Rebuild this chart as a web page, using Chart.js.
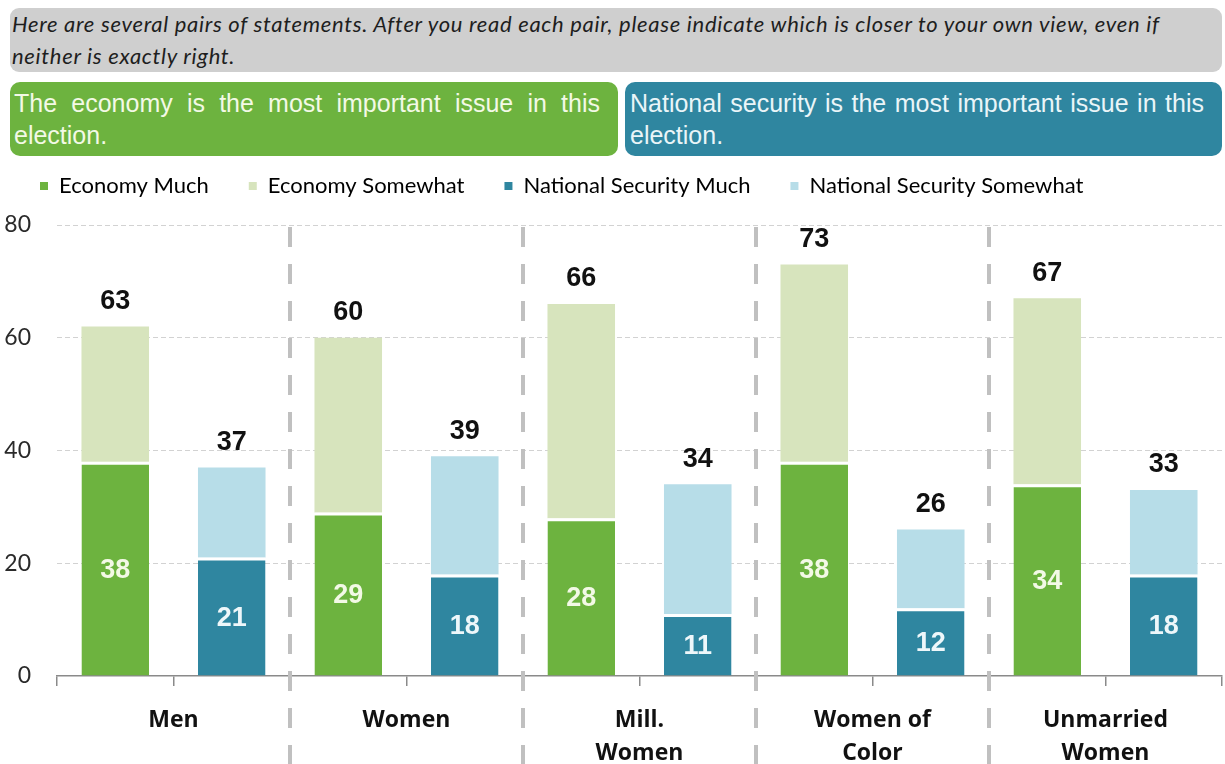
<!DOCTYPE html>
<html lang="en">
  <head>
    <meta charset="utf-8" />
    <title>Economy vs national security</title>
    <style>
      * {
        margin: 0;
        padding: 0;
      }
      body {
        width: 1225px;
        height: 764px;
        background: #fff;
        position: relative;
        overflow: hidden;
      }
      .question {
        position: absolute;
        left: 10px;
        top: 8px;
        width: 1210px;
        height: 64px;
        padding-left: 2px;
        background: #cfcfcf;
        border-radius: 9px;
        font-family: Lato, sans-serif;
        font-style: italic;
        font-size: 22px;
        letter-spacing: 0.7px;
        line-height: 32px;
        color: #1e1e1e;
      }
      .box {
        position: absolute;
        top: 82px;
        height: 74px;
        border-radius: 10px;
        font-family: 'Liberation Sans', Arial, sans-serif;
        font-size: 25px;
        line-height: 32px;
        text-align: justify;
        box-sizing: border-box;
        padding-top: 5px;
      }
      .green {
        left: 10px;
        width: 608px;
        background: #6db33f;
        color: #f3f9e6;
        padding-left: 4px;
        padding-right: 18px;
      }
      .teal {
        left: 625px;
        width: 597px;
        background: #2f86a0;
        color: #eaf5f8;
        padding-left: 5px;
        padding-right: 18px;
      }
      .chartBox {
        position: absolute;
        left: 0;
        top: 135px;
        width: 1225px;
        height: 629px;
      }
    </style>
  </head>
  <body>
    <div class="question">Here are several pairs of statements. After you read each pair, please indicate which is closer to your own view, even if<br />neither is exactly right.</div>
    <div class="box green">The economy is the most important issue in this election.</div>
    <div class="box teal">National security is the most important issue in this election.</div>
    <div class="chartBox">
      <canvas id="myChart"></canvas>
    </div>
    <script src="https://cdn.jsdelivr.net/npm/chart.js"></script>
    <script>
      // data
      const groups = [['Men'], ['Women'], ['Mill.', 'Women'], ['Women of', 'Color'], ['Unmarried', 'Women']];
      const econMuch = [38, 29, 28, 38, 34];
      const econSomewhat = [24, 31, 38, 35, 33];
      const nsMuch = [21, 18, 11, 12, 18];
      const nsSomewhat = [16, 21, 23, 14, 15];
      const econTotal = [63, 60, 66, 73, 67];
      const nsTotal = [37, 39, 34, 26, 33];
      const yTicks = [0, 20, 40, 60, 80];

      // two slots per group: economy bar then national security bar
      const labels = [];
      groups.forEach((g) => labels.push(g.join(' ') + ' E', g.join(' ') + ' NS'));
      const slot = (arr, side) => {
        const out = [];
        arr.forEach((v) => {
          out.push(side === 0 ? v : null);
          out.push(side === 1 ? v : null);
        });
        return out;
      };

      const white = { top: 3, left: 0, right: 0, bottom: 0 };
      const data = {
        labels,
        datasets: [
          { label: 'Economy Much', data: slot(econMuch, 0), backgroundColor: '#6db33f', borderColor: '#fff', borderWidth: white, borderSkipped: false },
          { label: 'Economy Somewhat', data: slot(econSomewhat, 0), backgroundColor: '#d7e4bd', borderWidth: 0 },
          { label: 'National Security Much', data: slot(nsMuch, 1), backgroundColor: '#2f86a0', borderColor: '#fff', borderWidth: white, borderSkipped: false },
          { label: 'National Security Somewhat', data: slot(nsSomewhat, 1), backgroundColor: '#b7dde8', borderWidth: 0 },
        ],
      };

      // legend height fixed so the plot starts at the 80 line
      const legendFit = {
        id: 'legendFit',
        beforeInit(chart) {
          const fit = chart.legend.fit;
          chart.legend.fit = function () {
            fit.call(this);
            this.height = 90;
          };
        },
      };

      // separators, group names and value labels
      const extras = {
        id: 'extras',
        afterDatasetsDraw(chart) {
          const { ctx, scales: { x }, chartArea } = chart;
          ctx.save();
          ctx.strokeStyle = '#c0c0c0';
          ctx.lineWidth = 4;
          ctx.setLineDash([20, 17]);
          for (let g = 1; g < groups.length; g++) {
            const px = (x.getPixelForValue(2 * g - 1) + x.getPixelForValue(2 * g)) / 2;
            ctx.beginPath();
            ctx.moveTo(px, chartArea.top + 2);
            ctx.lineTo(px, chart.height);
            ctx.stroke();
          }
          ctx.setLineDash([]);

          ctx.textAlign = 'center';
          ctx.textBaseline = 'middle';
          ctx.fillStyle = '#111';
          ctx.font = 'bold 23px "Open Sans", sans-serif';
          groups.forEach((g, i) => {
            const px = (x.getPixelForValue(2 * i) + x.getPixelForValue(2 * i + 1)) / 2;
            g.forEach((line, k) => ctx.fillText(line, px, chartArea.bottom + 44 + k * 33));
          });

          ctx.font = 'bold 27px "Liberation Sans", Arial, sans-serif';
          const inner = (dsIndex, color) => {
            const meta = chart.getDatasetMeta(dsIndex);
            meta.data.forEach((el, i) => {
              const v = chart.data.datasets[dsIndex].data[i];
              if (v == null) return;
              ctx.fillStyle = color;
              ctx.fillText(v, el.x, (el.y + el.base) / 2 + 2);
            });
          };
          inner(0, '#f3f9e6');
          inner(2, '#eef7fa');

          ctx.fillStyle = '#111';
          const tops = (dsIndex, totals) => {
            const meta = chart.getDatasetMeta(dsIndex);
            let n = 0;
            meta.data.forEach((el, i) => {
              if (chart.data.datasets[dsIndex].data[i] == null) return;
              ctx.fillText(totals[n++], el.x, el.y - 25);
            });
          };
          tops(1, econTotal);
          tops(3, nsTotal);
          ctx.restore();
        },
      };

      const config = {
        type: 'bar',
        data,
        options: {
          responsive: true,
          maintainAspectRatio: false,
          animation: false,
          layout: { padding: { left: 0, right: 3, top: 0, bottom: 0 } },
          datasets: { bar: { categoryPercentage: 1, barPercentage: 0.58 } },
          plugins: {
            tooltip: { enabled: false },
            legend: {
              align: 'start',
              labels: {
                boxWidth: 8,
                boxHeight: 8,
                padding: 40,
                color: '#3a3a3a',
                font: { family: 'Lato', size: 22 },
                generateLabels(chart) {
                  return chart.data.datasets.map((ds, i) => ({
                    text: ds.label,
                    fillStyle: ds.backgroundColor,
                    strokeStyle: ds.backgroundColor,
                    lineWidth: 0,
                    hidden: false,
                    datasetIndex: i,
                  }));
                },
              },
            },
          },
          scales: {
            x: {
              stacked: true,
              offset: true,
              ticks: { display: false },
              grid: { display: true, drawOnChartArea: false, drawTicks: true, tickLength: 10, color: '#8a8a8a', lineWidth: 1.5, offset: true },
              border: { display: true, color: '#8a8a8a', width: 1.5 },
              afterFit(scale) {
                scale.height = 88;
              },
            },
            y: {
              stacked: true,
              min: 0,
              max: 80,
              afterBuildTicks(scale) {
                scale.ticks = yTicks.map((v) => ({ value: v }));
              },
              ticks: { padding: 26, color: '#2a2a2a', font: { family: 'Lato', size: 23 } },
              grid: { color: (c) => (c.tick && c.tick.value === 0 ? 'rgba(0,0,0,0)' : '#d2d2d2'), lineWidth: 1, drawTicks: false },
              border: { display: false, dash: [5, 3] },
              afterFit(scale) {
                scale.width = 57;
              },
            },
          },
        },
        plugins: [legendFit, extras],
      };

      const myChart = new Chart(document.getElementById('myChart'), config);
    </script>
  </body>
</html>
